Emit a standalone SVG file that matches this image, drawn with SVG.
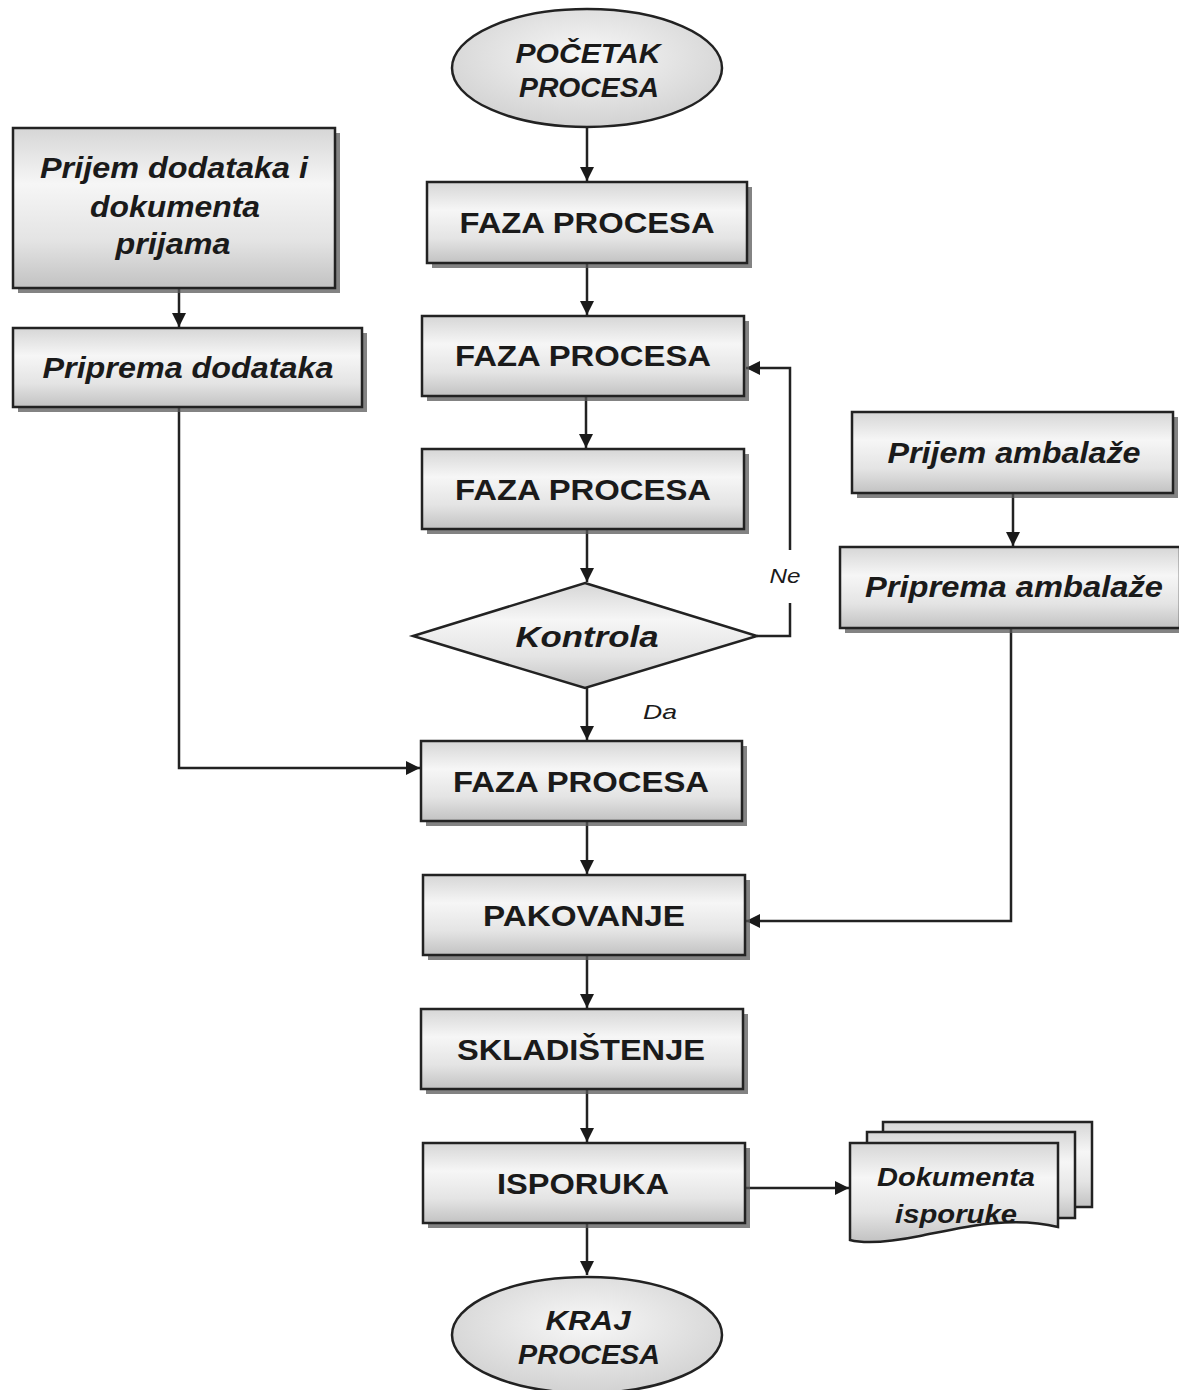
<svg xmlns="http://www.w3.org/2000/svg" width="1179" height="1390" viewBox="0 0 1179 1390">
<defs>
<linearGradient id="g" x1="0" y1="0" x2="0" y2="1">
<stop offset="0" stop-color="#d6d6d6"/>
<stop offset="0.35" stop-color="#f6f6f6"/>
<stop offset="0.7" stop-color="#e4e4e4"/>
<stop offset="1" stop-color="#c2c2c2"/>
</linearGradient>
<radialGradient id="ge" cx="0.5" cy="0.4" r="0.6">
<stop offset="0" stop-color="#f8f8f8"/>
<stop offset="1" stop-color="#d2d2d2"/>
</radialGradient>
<marker id="ah" viewBox="0 0 10 10" refX="10" refY="5" markerWidth="14" markerHeight="14" markerUnits="userSpaceOnUse" orient="auto">
<path d="M0,0 L10,5 L0,10 z" fill="#1a1a1a"/>
</marker>
<clipPath id="docclip"><path d="M850,1143 H1058 V1227 C1010,1215 960,1228 920,1236 C890,1242 865,1244 850,1240 Z"/></clipPath>
</defs>
<style>
.box{fill:url(#g);stroke:#222;stroke-width:2.5}
.sh{fill:#5a5a5a;opacity:0.75}
.t{font-family:"Liberation Sans",Arial,sans-serif;font-weight:bold;fill:#1a1a1a;text-anchor:middle}
.b{font-size:30px}
.i{font-size:29px;font-style:italic}
.e{font-size:27px;font-style:italic}
.lbl{font-family:"Liberation Sans",Arial,sans-serif;font-style:italic;font-size:21px;fill:#1a1a1a;text-anchor:middle}
.c{fill:none;stroke:#222;stroke-width:2.5}
</style>
<rect width="1179" height="1390" fill="#ffffff"/>

<g id="connectors">
<line class="c" x1="587" y1="128" x2="587" y2="181" marker-end="url(#ah)"/>
<line class="c" x1="587" y1="263" x2="587" y2="315" marker-end="url(#ah)"/>
<line class="c" x1="586" y1="396" x2="586" y2="448" marker-end="url(#ah)"/>
<line class="c" x1="587" y1="529" x2="587" y2="582" marker-end="url(#ah)"/>
<line class="c" x1="587" y1="688" x2="587" y2="740" marker-end="url(#ah)"/>
<polyline class="c" points="757,636 790,636 790,603"/>
<polyline class="c" points="790,550 790,368 746,368" marker-end="url(#ah)"/>
<line class="c" x1="179" y1="288" x2="179" y2="327" marker-end="url(#ah)"/>
<polyline class="c" points="179,407 179,768 420,768" marker-end="url(#ah)"/>
<line class="c" x1="1013" y1="493" x2="1013" y2="546" marker-end="url(#ah)"/>
<polyline class="c" points="1011,628 1011,921 746,921" marker-end="url(#ah)"/>
<line class="c" x1="587" y1="821" x2="587" y2="874" marker-end="url(#ah)"/>
<line class="c" x1="587" y1="955" x2="587" y2="1008" marker-end="url(#ah)"/>
<line class="c" x1="587" y1="1089" x2="587" y2="1142" marker-end="url(#ah)"/>
<line class="c" x1="745" y1="1188" x2="849" y2="1188" marker-end="url(#ah)"/>
<line class="c" x1="587" y1="1223" x2="587" y2="1275" marker-end="url(#ah)"/>
<text class="lbl" x="785" y="583" textLength="31" lengthAdjust="spacingAndGlyphs">Ne</text>
<text class="lbl" x="660" y="719" textLength="34" lengthAdjust="spacingAndGlyphs">Da</text>
</g>

<g id="start">
<ellipse cx="587" cy="68" rx="135" ry="59" fill="url(#ge)" stroke="#222" stroke-width="2.5"/>
<text class="t e" x="588" y="63" textLength="145" lengthAdjust="spacingAndGlyphs">POČETAK</text>
<text class="t e" x="589" y="97" textLength="140" lengthAdjust="spacingAndGlyphs">PROCESA</text>
</g>

<g id="faza1">
<rect class="sh" x="432" y="187" width="320" height="81"/>
<rect class="box" x="427" y="182" width="320" height="81"/>
<text class="t b" x="587" y="233" textLength="255" lengthAdjust="spacingAndGlyphs">FAZA PROCESA</text>
</g>

<g id="faza2">
<rect class="sh" x="427" y="321" width="322" height="80"/>
<rect class="box" x="422" y="316" width="322" height="80"/>
<text class="t b" x="583" y="366" textLength="256" lengthAdjust="spacingAndGlyphs">FAZA PROCESA</text>
</g>

<g id="faza3">
<rect class="sh" x="427" y="454" width="322" height="80"/>
<rect class="box" x="422" y="449" width="322" height="80"/>
<text class="t b" x="583" y="500" textLength="256" lengthAdjust="spacingAndGlyphs">FAZA PROCESA</text>
</g>

<g id="kontrola">
<polygon points="585,583 757,636 585,688 413,636" fill="url(#g)" stroke="#222" stroke-width="2.5"/>
<text class="t" style="font-size:30px;font-style:italic" x="587" y="647" textLength="143" lengthAdjust="spacingAndGlyphs">Kontrola</text>
</g>

<g id="faza4">
<rect class="sh" x="426" y="746" width="321" height="80"/>
<rect class="box" x="421" y="741" width="321" height="80"/>
<text class="t b" x="581" y="792" textLength="256" lengthAdjust="spacingAndGlyphs">FAZA PROCESA</text>
</g>

<g id="pakovanje">
<rect class="sh" x="428" y="880" width="322" height="80"/>
<rect class="box" x="423" y="875" width="322" height="80"/>
<text class="t b" x="584" y="926" textLength="202" lengthAdjust="spacingAndGlyphs">PAKOVANJE</text>
</g>

<g id="skladistenje">
<rect class="sh" x="426" y="1014" width="322" height="80"/>
<rect class="box" x="421" y="1009" width="322" height="80"/>
<text class="t b" x="581" y="1060" textLength="248" lengthAdjust="spacingAndGlyphs">SKLADIŠTENJE</text>
</g>

<g id="isporuka">
<rect class="sh" x="428" y="1148" width="322" height="80"/>
<rect class="box" x="423" y="1143" width="322" height="80"/>
<text class="t b" x="583" y="1194" textLength="172" lengthAdjust="spacingAndGlyphs">ISPORUKA</text>
</g>

<g id="kraj">
<ellipse cx="587" cy="1335" rx="135" ry="58" fill="url(#ge)" stroke="#222" stroke-width="2.5"/>
<text class="t e" x="588" y="1330" textLength="85" lengthAdjust="spacingAndGlyphs">KRAJ</text>
<text class="t e" x="589" y="1364" textLength="142" lengthAdjust="spacingAndGlyphs">PROCESA</text>
</g>

<g id="prijem-dodataka">
<rect class="sh" x="18" y="133" width="322" height="160"/>
<rect class="box" x="13" y="128" width="322" height="160"/>
<text class="t i" x="174" y="178" textLength="268" lengthAdjust="spacingAndGlyphs">Prijem dodataka i</text>
<text class="t i" x="175" y="217" textLength="170" lengthAdjust="spacingAndGlyphs">dokumenta</text>
<text class="t i" x="173" y="254" textLength="115" lengthAdjust="spacingAndGlyphs">prijama</text>
</g>

<g id="priprema-dodataka">
<rect class="sh" x="18" y="333" width="349" height="79"/>
<rect class="box" x="13" y="328" width="349" height="79"/>
<text class="t i" x="188" y="378" textLength="291" lengthAdjust="spacingAndGlyphs">Priprema dodataka</text>
</g>

<g id="prijem-ambalaze">
<rect class="sh" x="857" y="417" width="321" height="81"/>
<rect class="box" x="852" y="412" width="321" height="81"/>
<text class="t i" x="1014" y="463" textLength="253" lengthAdjust="spacingAndGlyphs">Prijem ambalaže</text>
</g>

<g id="priprema-ambalaze">
<rect class="sh" x="845" y="552" width="340" height="81"/>
<rect class="box" x="840" y="547" width="340" height="81"/>
<text class="t i" x="1014" y="597" textLength="298" lengthAdjust="spacingAndGlyphs">Priprema ambalaže</text>
</g>

<g id="dokumenta">
<rect x="883" y="1122" width="209" height="85" fill="url(#g)" stroke="#222" stroke-width="2.5"/>
<rect x="867" y="1132" width="208" height="86" fill="url(#g)" stroke="#222" stroke-width="2.5"/>
<path d="M850,1143 H1058 V1227 C1010,1215 960,1228 920,1236 C890,1242 865,1244 850,1240 Z" fill="url(#g)" stroke="#222" stroke-width="2.5"/>
<g clip-path="url(#docclip)">
<text class="t" style="font-size:25px;font-style:italic" x="956" y="1186" textLength="158" lengthAdjust="spacingAndGlyphs">Dokumenta</text>
<text class="t" style="font-size:25px;font-style:italic" x="956" y="1223" textLength="122" lengthAdjust="spacingAndGlyphs">isporuke</text>
</g>
</g>
</svg>
